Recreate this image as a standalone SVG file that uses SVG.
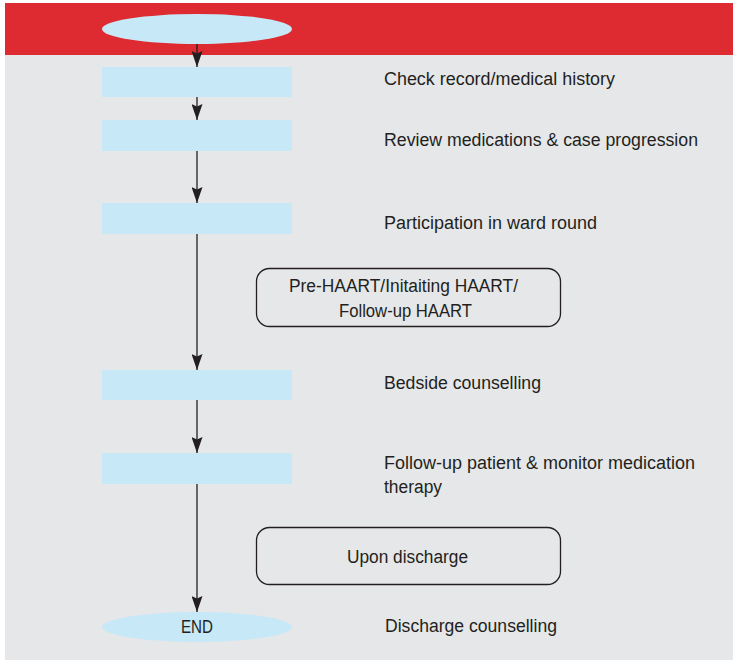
<svg xmlns="http://www.w3.org/2000/svg" width="733" height="660" viewBox="0 0 733 660">
<style>
.t{font-family:"Liberation Sans",Arial,sans-serif;font-size:18px;fill:#231f20}
.box{fill:#c7e8f7}
.rr{fill:none;stroke:#231f20;stroke-width:1.3}
.c{stroke:#231f20;stroke-width:1.3;fill:none;marker-end:url(#ah)}
</style>
<defs>
<marker id="ah" viewBox="0 0 16 11" refX="16" refY="5.5" markerUnits="userSpaceOnUse" markerWidth="16" markerHeight="11" orient="auto">
<path d="M0,0 L16,5.5 L0,11 L2.5,5.5 z" fill="#231f20"/>
</marker>
</defs>
<rect x="5" y="3" width="728" height="657" fill="#e6e7e9"/>
<rect x="5" y="3" width="728" height="52" fill="#de2a31"/>
<g id="connectors">
<line class="c" x1="197" y1="44" x2="197" y2="67"/>
<line class="c" x1="197" y1="97" x2="197" y2="120"/>
<line class="c" x1="197" y1="151" x2="197" y2="203"/>
<line class="c" x1="197" y1="234" x2="197" y2="370"/>
<line class="c" x1="197" y1="400" x2="197" y2="453"/>
<line class="c" x1="197" y1="484" x2="197" y2="612"/>
</g>
<g id="start"><ellipse cx="197" cy="29" rx="95" ry="15" fill="#c7e8f7"/></g>
<g id="n1"><rect class="box" x="102" y="67" width="190" height="30"/><text class="t" x="384" y="85" textLength="231" lengthAdjust="spacingAndGlyphs">Check record/medical history</text></g>
<g id="n2"><rect class="box" x="102" y="120" width="190" height="31"/><text class="t" x="384" y="146" textLength="314" lengthAdjust="spacingAndGlyphs">Review medications &amp; case progression</text></g>
<g id="n3"><rect class="box" x="102" y="203" width="190" height="31"/><text class="t" x="384" y="229" textLength="213" lengthAdjust="spacingAndGlyphs">Participation in ward round</text></g>
<g id="haart"><rect class="rr" x="256.5" y="268.5" width="304" height="58" rx="13"/><text class="t" x="289" y="292" textLength="229" lengthAdjust="spacingAndGlyphs">Pre-HAART/Initaiting HAART/</text><text class="t" x="339" y="317" textLength="133" lengthAdjust="spacingAndGlyphs">Follow-up HAART</text></g>
<g id="n4"><rect class="box" x="102" y="370" width="190" height="30"/><text class="t" x="384" y="389" textLength="157" lengthAdjust="spacingAndGlyphs">Bedside counselling</text></g>
<g id="n5"><rect class="box" x="102" y="453" width="190" height="31"/><text class="t" x="384" y="469" textLength="311" lengthAdjust="spacingAndGlyphs">Follow-up patient &amp; monitor medication</text><text class="t" x="384" y="493" textLength="58" lengthAdjust="spacingAndGlyphs">therapy</text></g>
<g id="discharge"><rect class="rr" x="256.5" y="527.5" width="304" height="57" rx="13"/><text class="t" x="347" y="563" textLength="121" lengthAdjust="spacingAndGlyphs">Upon discharge</text></g>
<g id="end"><ellipse cx="197" cy="627" rx="95" ry="15" fill="#c7e8f7"/><text class="t" x="181" y="633" textLength="32" lengthAdjust="spacingAndGlyphs">END</text><text class="t" x="385" y="632" textLength="172" lengthAdjust="spacingAndGlyphs">Discharge counselling</text></g>
</svg>
